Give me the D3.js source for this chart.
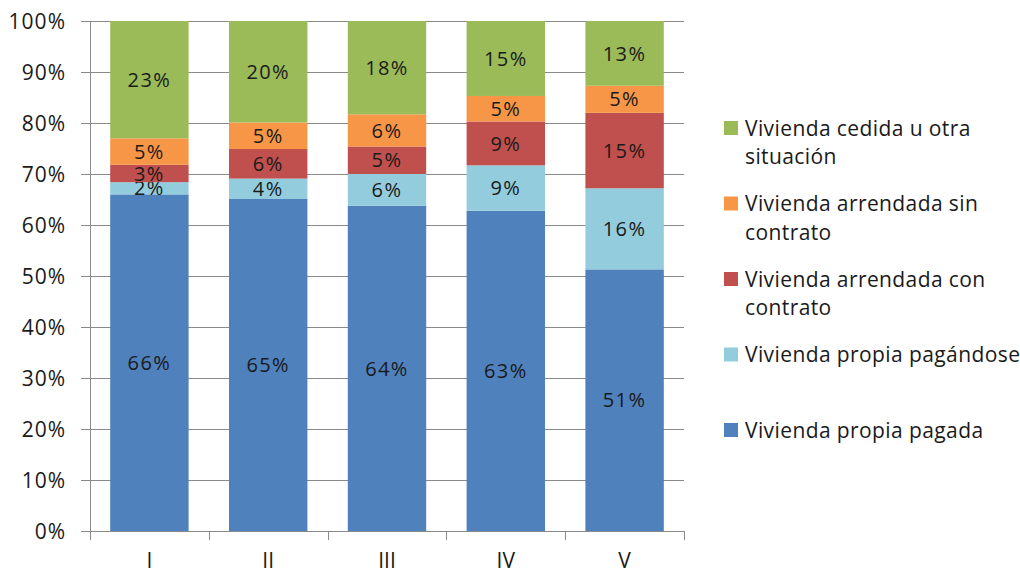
<!DOCTYPE html>
<html>
<head>
<meta charset="utf-8">
<script src="https://cdn.jsdelivr.net/npm/d3@7"></script>
<style>
  body { margin: 0; background: #fff; }
  text { font-family: "Open Sans", Lato, sans-serif; fill: #1a1a1a; }
</style>
</head>
<body>
<svg id="canvas"></svg>
<script>
let categories = ["I", "II", "III", "IV", "V"];
let seriesNames = [
  "Vivienda propia pagada",
  "Vivienda propia pagándose",
  "Vivienda arrendada con contrato",
  "Vivienda arrendada sin contrato",
  "Vivienda cedida u otra situación"
];
let propiaPagada = [66.0, 65.1, 63.8, 62.8, 51.3];
let propiaPagandose = [2.4, 4.0, 6.2, 8.9, 15.9];
let arrendadaCon = [3.4, 5.8, 5.4, 8.6, 14.8];
let arrendadaSin = [5.2, 5.2, 6.3, 5.0, 5.3];
let cedida = [23.0, 19.9, 18.3, 14.7, 12.7];
let colors = ["#4F81BD", "#93CDDD", "#C0504D", "#F79646", "#9BBB59"];
let yTicks = [0, 10, 20, 30, 40, 50, 60, 70, 80, 90, 100];
// legend lines, top item first
let legendLines = [
  ["Vivienda cedida u otra", "situación"],
  ["Vivienda arrendada sin", "contrato"],
  ["Vivienda arrendada con", "contrato"],
  ["Vivienda propia pagándose"],
  ["Vivienda propia pagada"]
];

let width = 1020;
let height = 571;
let plotLeft = 90, plotRight = 684, plotTop = 21, plotBottom = 531;

let canvas = d3.select("#canvas").attr("width", width).attr("height", height);

let table = categories.map((c, i) => ({
  cat: c,
  s0: propiaPagada[i],
  s1: propiaPagandose[i],
  s2: arrendadaCon[i],
  s3: arrendadaSin[i],
  s4: cedida[i]
}));
let keys = ["s0", "s1", "s2", "s3", "s4"];
let stacked = d3.stack().keys(keys)(table);

let xScale = d3.scaleBand().domain(categories).range([plotLeft, plotRight])
  .paddingInner(0.34).paddingOuter(0.17);
let yScale = d3.scaleLinear().domain([0, 100]).range([plotBottom, plotTop]);

// gridlines
canvas.append("g")
  .selectAll("line")
  .data(yTicks)
  .enter()
  .append("line")
  .attr("x1", plotLeft - 9)
  .attr("x2", plotRight)
  .attr("y1", (d) => Math.round(yScale(d)) + 0.5)
  .attr("y2", (d) => Math.round(yScale(d)) + 0.5)
  .attr("stroke", "#8a8a8a")
  .attr("stroke-width", 1);

canvas.append("g")
  .selectAll("text")
  .data(yTicks)
  .enter()
  .append("text")
  .attr("x", plotLeft - 24)
  .attr("y", (d) => yScale(d))
  .attr("dy", "0.36em")
  .attr("text-anchor", "end")
  .style("font-size", "21px")
  .style("letter-spacing", "1px")
  .text((d) => d + "%");

// bars
let groups = canvas.append("g")
  .selectAll("g")
  .data(stacked)
  .enter()
  .append("g")
  .attr("fill", (d, i) => colors[i]);

groups.selectAll("rect")
  .data((d) => d)
  .enter()
  .append("rect")
  .attr("x", (d) => xScale(d.data.cat))
  .attr("width", xScale.bandwidth())
  .attr("y", (d) => yScale(d[1]))
  .attr("height", (d) => yScale(d[0]) - yScale(d[1]));

groups.selectAll("text")
  .data((d) => d)
  .enter()
  .append("text")
  .attr("x", (d) => xScale(d.data.cat) + xScale.bandwidth() / 2)
  .attr("y", (d) => yScale((d[0] + d[1]) / 2))
  .attr("dy", "0.36em")
  .attr("text-anchor", "middle")
  .style("font-size", "20px")
  .style("letter-spacing", "1.4px")
  .text((d) => Math.round(d[1] - d[0]) + "%");

// axes lines
canvas.append("line")
  .attr("x1", plotLeft + 0.5).attr("x2", plotLeft + 0.5)
  .attr("y1", plotTop).attr("y2", plotBottom)
  .attr("stroke", "#8a8a8a");

canvas.append("line")
  .attr("x1", plotLeft).attr("x2", plotRight)
  .attr("y1", plotBottom + 0.5).attr("y2", plotBottom + 0.5)
  .attr("stroke", "#8a8a8a");

let step = xScale.step();
canvas.append("g")
  .selectAll("line")
  .data(d3.range(categories.length + 1))
  .enter()
  .append("line")
  .attr("x1", (i) => Math.round(plotLeft + i * step) + 0.5)
  .attr("x2", (i) => Math.round(plotLeft + i * step) + 0.5)
  .attr("y1", plotBottom)
  .attr("y2", plotBottom + 9)
  .attr("stroke", "#8a8a8a");

canvas.append("g")
  .selectAll("text")
  .data(categories)
  .enter()
  .append("text")
  .attr("x", (d) => xScale(d) + xScale.bandwidth() / 2)
  .attr("y", 560)
  .attr("dy", "0.36em")
  .attr("text-anchor", "middle")
  .style("font-size", "21px")
  .text((d) => d);

// legend
let legend = canvas.append("g")
  .selectAll("g")
  .data(legendLines)
  .enter()
  .append("g")
  .attr("transform", (d, i) => "translate(724," + (128 + i * 75.5) + ")");

legend.append("rect")
  .attr("x", 0)
  .attr("y", -7)
  .attr("width", 14)
  .attr("height", 14)
  .attr("fill", (d, i) => colors[colors.length - 1 - i]);

legend.each(function (lines) {
  d3.select(this)
    .selectAll("text")
    .data(lines)
    .enter()
    .append("text")
    .attr("x", 21)
    .attr("y", (d, j) => j * 28.5)
    .attr("dy", "0.36em")
    .style("font-size", "21px")
    .style("letter-spacing", "0.4px")
    .text((d) => d);
});
</script>
</body>
</html>
